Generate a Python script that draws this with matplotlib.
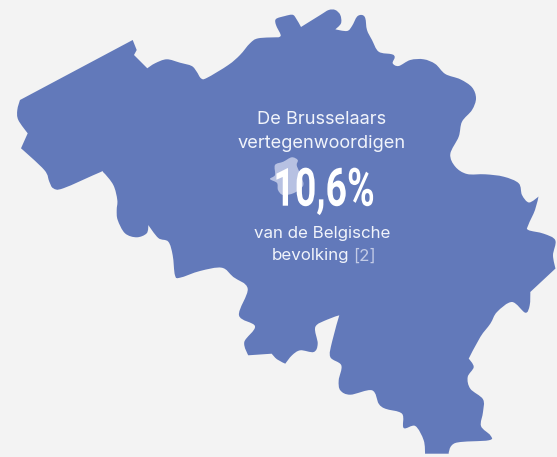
import matplotlib
matplotlib.use("Agg")
import matplotlib.pyplot as plt
from matplotlib.patches import PathPatch
from matplotlib.path import Path
from matplotlib.patheffects import AbstractPathEffect
from matplotlib.transforms import Affine2D

# outline of Belgium (x right, y down)
border = [
    (20, 100), (132.7, 40), (136.7, 50), (134, 55), (147.3, 68.3), (155, 63.3),
    (166.7, 59.3), (180, 62.7), (191.7, 66), (196.7, 71.7), (201, 78.3), (206.7, 78),
    (228.3, 65), (240, 55), (250, 43.3), (258.3, 38.3), (278.3, 37.3), (280.7, 35),
    (276, 25), (276, 19), (285, 16), (291.7, 14.7), (295, 16.7), (301, 27),
    (320.3, 15), (328.7, 10), (335.3, 10), (340.3, 15), (341, 23.3), (335.3, 29.3),
    (347, 31), (352, 26), (357, 16.7), (362, 15), (365.3, 18.3), (367, 30),
    (372, 40), (378.7, 51.7), (392, 54.3), (394.7, 57.3), (392.7, 63.3), (398.7, 66),
    (410.3, 60), (423.7, 59.3), (435.3, 64), (445.3, 74), (460.3, 79.3), (472, 87.3),
    (476, 98.3), (472, 110), (462, 121.7), (458.7, 136.7), (450.3, 154), (455.3, 166.7),
    (467, 174), (485.3, 174.3), (503.7, 176.7), (518.7, 183.3), (522, 195), (529, 202.5),
    (538.5, 196.5), (535, 210), (528.3, 225), (528.3, 230), (543.7, 233.7), (555.3, 240.3),
    (553, 255.3), (555.5, 268.5), (530.3, 292), (529.7, 305.3), (525.3, 312.7), (512, 302),
    (497, 312), (490.3, 323.7), (480.3, 337), (468.7, 358.7), (473.7, 367), (467.7, 377),
    (470.3, 388.7), (483, 399.3), (483, 412), (481, 426), (490.3, 435.3), (488.7, 440.3),
    (455.3, 443), (448.7, 453.7), (425, 453.7), (423.7, 440.3), (415.3, 426), (403.7, 428),
    (402, 413.7), (385.3, 408.7), (378.7, 403.7), (372, 390.3), (350.3, 394.7), (340.3, 390.3),
    (338.7, 380.3), (341.3, 365.3), (330.3, 357), (332, 342), (339.3, 315.3), (327, 319.7),
    (315.3, 327), (317.7, 343.7), (313.7, 352), (300.3, 350.3), (292, 355.3), (285.3, 363.7),
    (277, 359.3), (271.7, 353.7), (248.3, 355.3), (244.3, 342), (255, 326.3), (239, 315.3),
    (247.7, 288.7), (233.3, 277), (221.7, 267.7), (200, 271), (180, 277.7), (175, 275.3),
    (172.7, 255.3), (168.3, 241.7), (158.3, 238), (148.3, 225), (146.7, 233.3), (136.7, 237.3),
    (125, 233.3), (117.7, 220), (116.7, 210), (117.3, 200), (113.3, 185), (103.3, 172.3),
    (100, 172.3), (63.3, 188.3), (53.3, 188.3), (49.3, 181.7), (44.3, 170), (21, 148.3),
    (27.7, 133.3), (18.3, 120), (17.3, 110),
]

# points of the outline that stay sharp
border_corners = [
    (20, 100), (132.7, 40), (136.7, 50), (134, 55), (147.3, 68.3), (278.3, 37.3),
    (301, 27), (335.3, 29.3), (538.5, 196.5), (555.5, 268.5), (530.3, 292), (468.7, 358.7),
    (425, 453.7), (448.7, 453.7), (339.3, 315.3), (248.3, 355.3), (271.7, 353.7),
    (285.3, 363.7), (148.3, 225), (21, 148.3), (27.7, 133.3),
]

brussels = [
    (270, 179), (275, 175), (275, 165), (283.3, 161.7), (291.7, 157.3), (297.7, 160),
    (296.7, 165), (299, 171), (302, 178), (303, 186), (294, 193), (283, 195),
    (278, 190), (277, 183),
]

intro_lines = ["De Brusselaars", "vertegenwoordigen"]
share_label = "10,6%"
outro_lines = ["van de Belgische", "bevolking"]
ref_label = "[2]"


def smooth_path(points, corners=()):
    # closed bezier through the points, tangent is dropped at the corners
    n = len(points)
    verts = [points[0]]
    codes = [Path.MOVETO]
    for i in range(n):
        p0, p1, p2, p3 = points[i - 1], points[i], points[(i + 1) % n], points[(i + 2) % n]
        c1 = p1 if p1 in corners else (p1[0] + (p2[0] - p0[0]) / 6, p1[1] + (p2[1] - p0[1]) / 6)
        c2 = p2 if p2 in corners else (p2[0] - (p3[0] - p1[0]) / 6, p2[1] - (p3[1] - p1[1]) / 6)
        verts += [c1, c2, p2]
        codes += [Path.CURVE4] * 3
    return Path(verts, codes)


class Squeeze(AbstractPathEffect):
    # narrows a text around a fixed x pixel, there is no condensed font here
    def __init__(self, sx, cx):
        super().__init__()
        self.sx = sx
        self.cx = cx

    def draw_path(self, renderer, gc, tpath, affine, rgbFace=None):
        t = affine + Affine2D().translate(-self.cx, 0).scale(self.sx, 1).translate(self.cx, 0)
        renderer.draw_path(gc, tpath, t, rgbFace)


bg = "#f3f3f3"
blue = "#6279ba"
white = "#f1f4fb"

fig = plt.figure(figsize=(5.57, 4.57), dpi=100, facecolor=bg)
ax = fig.add_axes([0, 0, 1, 1])
ax.set_xlim(0, 557)
ax.set_ylim(457, 0)
ax.axis("off")

ax.add_patch(PathPatch(smooth_path(border, border_corners), facecolor=blue, lw=0))
ax.add_patch(PathPatch(smooth_path(brussels), facecolor="#b7c1e2", lw=0))

font = dict(family="Inter", fontsize=13.1, color=white, ha="center", va="baseline")
ax.text(322, 124, intro_lines[0], **font)
ax.text(321.5, 148, intro_lines[1], **font)

font["fontsize"] = 12.2
ax.text(322, 237.7, outro_lines[0], **font)
ax.text(349.5, 260.3, outro_lines[1], **{**font, "ha": "right"})
ax.text(353, 260.3, ref_label, **{**font, "ha": "left", "color": "#c3cbe6"})

big = ax.text(324, 205.7, share_label, family="Roboto", weight="bold",
              fontsize=38, color="white", ha="center", va="baseline")
big.set_path_effects([Squeeze(0.71, 324)])

fig.savefig("out.png", dpi=100, facecolor=bg)
